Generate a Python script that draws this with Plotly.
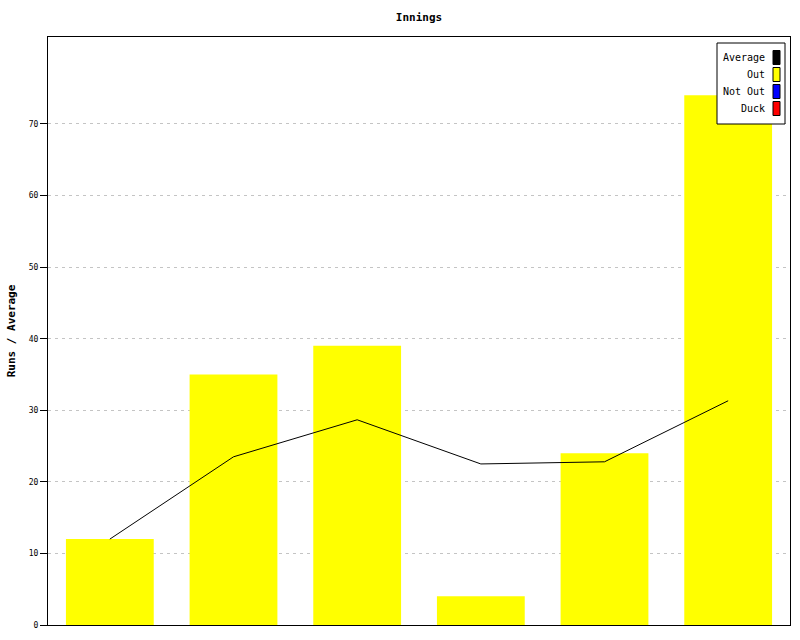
import plotly.graph_objects as go

# ---- data ----
innings = ["1", "2", "3", "4", "5", "6"]
runs = [12, 35, 39, 4, 24, 74]
average = [12, 23.5, 28.67, 22.5, 22.8, 31.33]
legend_names = ["Average", "Out", "Not Out", "Duck"]
legend_colors = ["#000000", "#ffff00", "#0000ff", "#ff0000"]
y_ticks = [0, 10, 20, 30, 40, 50, 60, 70]

W, H = 800, 640
L, R, T, B = 48, 10, 37, 15
pw, ph = W - L - R, H - T - B

def px(x):
    return (x - L) / pw

def py(y):
    return (H - B - y) / ph

mono = "DejaVu Sans Mono"
xs = list(range(len(innings)))

fig = go.Figure()
fig.add_trace(go.Bar(x=xs, y=runs, width=0.71, marker=dict(color="#ffff00", line=dict(width=0)),
                     showlegend=False, hoverinfo="y"))
fig.add_trace(go.Scatter(x=xs, y=average, mode="lines", line=dict(color="#000000", width=1),
                         showlegend=False))

shapes = []
annotations = []
# legend box
shapes.append(dict(type="rect", xref="paper", yref="paper", x0=px(717), x1=px(785), y0=py(124), y1=py(43),
                   line=dict(color="#000000", width=1), fillcolor="#ffffff", layer="above"))
for i, (name, col) in enumerate(zip(legend_names, legend_colors)):
    yc = 57.5 + 17 * i
    shapes.append(dict(type="rect", xref="paper", yref="paper", x0=px(773), x1=px(780),
                       y0=py(yc + 7), y1=py(yc - 7), fillcolor=col,
                       line=dict(color="#000000", width=1), layer="above"))
    annotations.append(dict(xref="paper", yref="paper", x=px(767), y=py(yc), xanchor="right", yanchor="middle",
                            text=name, showarrow=False, font=dict(family=mono, size=10, color="#000000")))

fig.update_layout(
    width=W, height=H, autosize=False,
    margin=dict(l=L, r=R, t=T, b=B, pad=0, autoexpand=False),
    paper_bgcolor="#ffffff", plot_bgcolor="#ffffff",
    title=dict(text="<b>Innings</b>", xref="paper", x=0.5, xanchor="center", yref="container",
               y=1 - 17 / H, yanchor="middle", font=dict(family=mono, size=11, color="#000000"),
               automargin=False),
    bargap=0.29,
    showlegend=False,
    shapes=shapes,
    annotations=annotations,
    xaxis=dict(range=[-0.5, len(innings) - 0.5], showticklabels=False, ticks="", showgrid=False,
               zeroline=False, showline=True, linecolor="#000000", linewidth=1, mirror=True,
               fixedrange=True, automargin=False),
    yaxis=dict(range=[0, 82.15], tickvals=y_ticks, ticktext=[str(v) for v in y_ticks],
               ticks="outside", ticklen=7, tickcolor="#000000", tickwidth=1,
               tickfont=dict(family=mono, size=8, color="#000000"),
               showgrid=True, gridcolor="#c4c4c4", gridwidth=1, griddash="3px,4px",
               zeroline=False, showline=True, linecolor="#000000", linewidth=1, mirror=True,
               automargin=False,
               title=dict(text="<b>Runs / Average</b>", font=dict(family=mono, size=11, color="#000000"),
                          standoff=10)),
)

fig.write_html("out.html", config={"displayModeBar": False},
               post_script="document.body.style.margin='0';document.body.style.overflow='hidden';")
